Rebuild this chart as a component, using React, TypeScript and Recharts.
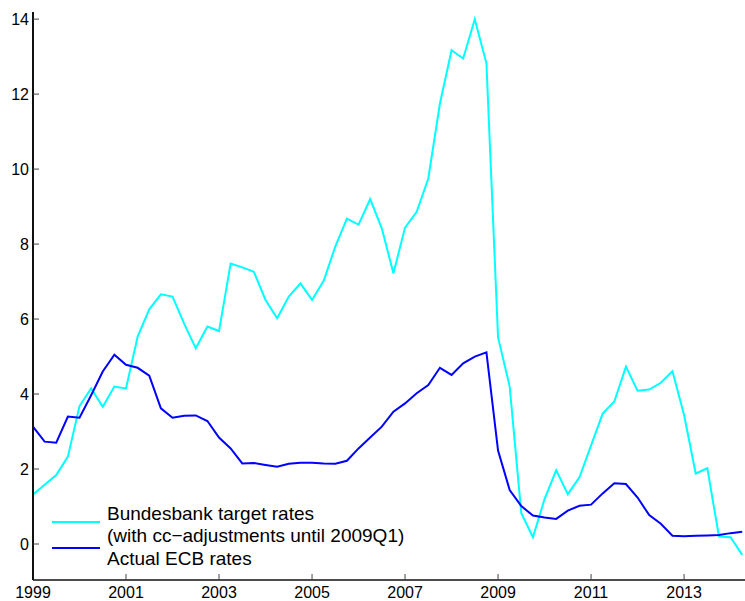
import { LineChart, Line, XAxis, YAxis } from 'recharts';

// quarterly observations, 1999Q1 .. 2014Q2
const quarters = [
  '1999Q1', '1999Q2', '1999Q3', '1999Q4', '2000Q1', '2000Q2', '2000Q3', '2000Q4',
  '2001Q1', '2001Q2', '2001Q3', '2001Q4', '2002Q1', '2002Q2', '2002Q3', '2002Q4',
  '2003Q1', '2003Q2', '2003Q3', '2003Q4', '2004Q1', '2004Q2', '2004Q3', '2004Q4',
  '2005Q1', '2005Q2', '2005Q3', '2005Q4', '2006Q1', '2006Q2', '2006Q3', '2006Q4',
  '2007Q1', '2007Q2', '2007Q3', '2007Q4', '2008Q1', '2008Q2', '2008Q3', '2008Q4',
  '2009Q1', '2009Q2', '2009Q3', '2009Q4', '2010Q1', '2010Q2', '2010Q3', '2010Q4',
  '2011Q1', '2011Q2', '2011Q3', '2011Q4', '2012Q1', '2012Q2', '2012Q3', '2012Q4',
  '2013Q1', '2013Q2', '2013Q3', '2013Q4', '2014Q1', '2014Q2',
];

const bundesbankRates = [
  1.32, 1.58, 1.84, 2.33, 3.68, 4.15, 3.66, 4.2,
  4.15, 5.53, 6.26, 6.66, 6.6, 5.88, 5.22, 5.8,
  5.68, 7.48, 7.38, 7.26, 6.51, 6.02, 6.6, 6.95,
  6.51, 7.02, 7.93, 8.68, 8.52, 9.2, 8.42, 7.22,
  8.44, 8.86, 9.75, 11.75, 13.17, 12.95, 14.0, 12.82,
  5.51, 4.2, 0.82, 0.18, 1.2, 1.97, 1.33, 1.78,
  2.63, 3.48, 3.8, 4.73, 4.09, 4.12, 4.3, 4.61,
  3.44, 1.88, 2.02, 0.2, 0.18, -0.29,
];

const ecbRates = [
  3.13, 2.73, 2.7, 3.4, 3.37, 3.97, 4.6, 5.05,
  4.78, 4.7, 4.49, 3.62, 3.37, 3.42, 3.43, 3.28,
  2.84, 2.55, 2.15, 2.16, 2.11, 2.06, 2.14, 2.17,
  2.17, 2.15, 2.14, 2.22, 2.55, 2.84, 3.13, 3.53,
  3.75, 4.02, 4.24, 4.7, 4.51, 4.82, 5.0, 5.11,
  2.49, 1.44, 1.01, 0.76, 0.71, 0.67, 0.89, 1.02,
  1.05, 1.35, 1.62, 1.6, 1.24, 0.77, 0.54, 0.22,
  0.21, 0.22, 0.23, 0.24, 0.29, 0.33,
];

const yearTicks = [1999, 2001, 2003, 2005, 2007, 2009, 2011, 2013];
const rateTicks = [0, 2, 4, 6, 8, 10, 12, 14];

const legendBund = ['Bundesbank target rates', '(with cc\u2212adjustments until 2009Q1)'];
const legendEcb = 'Actual ECB rates';

const CYAN = '#00ffff';
const BLUE = '#0000ff';
const FONT = '"Liberation Sans", Arial, Helvetica, sans-serif';

const data = quarters.map((q, i) => ({
  t: Number(q.slice(0, 4)) + (Number(q.slice(5)) - 1) / 4,
  bund: bundesbankRates[i],
  ecb: ecbRates[i],
}));

const X_DOMAIN: [number, number] = [1999, 2014.31];
const Y_DOMAIN: [number, number] = [-0.96, 14.19];

export default function App() {
  return (
    <div style={{ position: 'absolute', left: 0, top: 0, width: 745, height: 601, fontFamily: FONT }}>
      <LineChart width={745} height={601} data={data} margin={{ top: 12, right: 0, bottom: 0, left: 0 }}>
        <XAxis
          xAxisId="top"
          orientation="top"
          dataKey="t"
          type="number"
          domain={X_DOMAIN}
          ticks={yearTicks}
          interval={0}
          allowDataOverflow
          height={0}
          tick={false}
          tickSize={-6}
          axisLine={{ stroke: '#333', strokeWidth: 1 }}
          tickLine={{ stroke: '#444', strokeWidth: 1 }}
        />
        <XAxis
          dataKey="t"
          type="number"
          domain={X_DOMAIN}
          ticks={yearTicks}
          interval={0}
          allowDataOverflow
          height={21}
          tickSize={-6}
          tickMargin={13}
          tick={{ fill: '#000', fontSize: 16, fontFamily: FONT }}
          axisLine={{ stroke: '#111', strokeWidth: 1.5 }}
          tickLine={{ stroke: '#444', strokeWidth: 1 }}
        />
        <YAxis
          type="number"
          domain={Y_DOMAIN}
          ticks={rateTicks}
          interval={0}
          allowDataOverflow
          width={33}
          tickSize={-6}
          tickMargin={10}
          tick={{ fill: '#000', fontSize: 16, fontFamily: FONT }}
          axisLine={{ stroke: '#111', strokeWidth: 2 }}
          tickLine={{ stroke: '#444', strokeWidth: 1 }}
        />
        <Line dataKey="bund" name={legendBund[0]} stroke={CYAN} strokeWidth={2} dot={false} isAnimationActive={false} />
        <Line dataKey="ecb" name={legendEcb} stroke={BLUE} strokeWidth={2} dot={false} isAnimationActive={false} />
      </LineChart>

      {/* legend, drawn in the lower left corner of the plot */}
      <svg width={400} height={72} style={{ position: 'absolute', left: 50, top: 500 }}>
        <line x1={2} x2={50} y1={22} y2={22} stroke={CYAN} strokeWidth={2} />
        <text x={57} y={19.5} fontSize={19} fontFamily={FONT} fill="#000">{legendBund[0]}</text>
        <text x={57} y={41.5} fontSize={19} fontFamily={FONT} fill="#000">{legendBund[1]}</text>
        <line x1={2} x2={50} y1={48} y2={48} stroke={BLUE} strokeWidth={2} />
        <text x={57} y={64.5} fontSize={19} fontFamily={FONT} fill="#000">{legendEcb}</text>
      </svg>
    </div>
  );
}
